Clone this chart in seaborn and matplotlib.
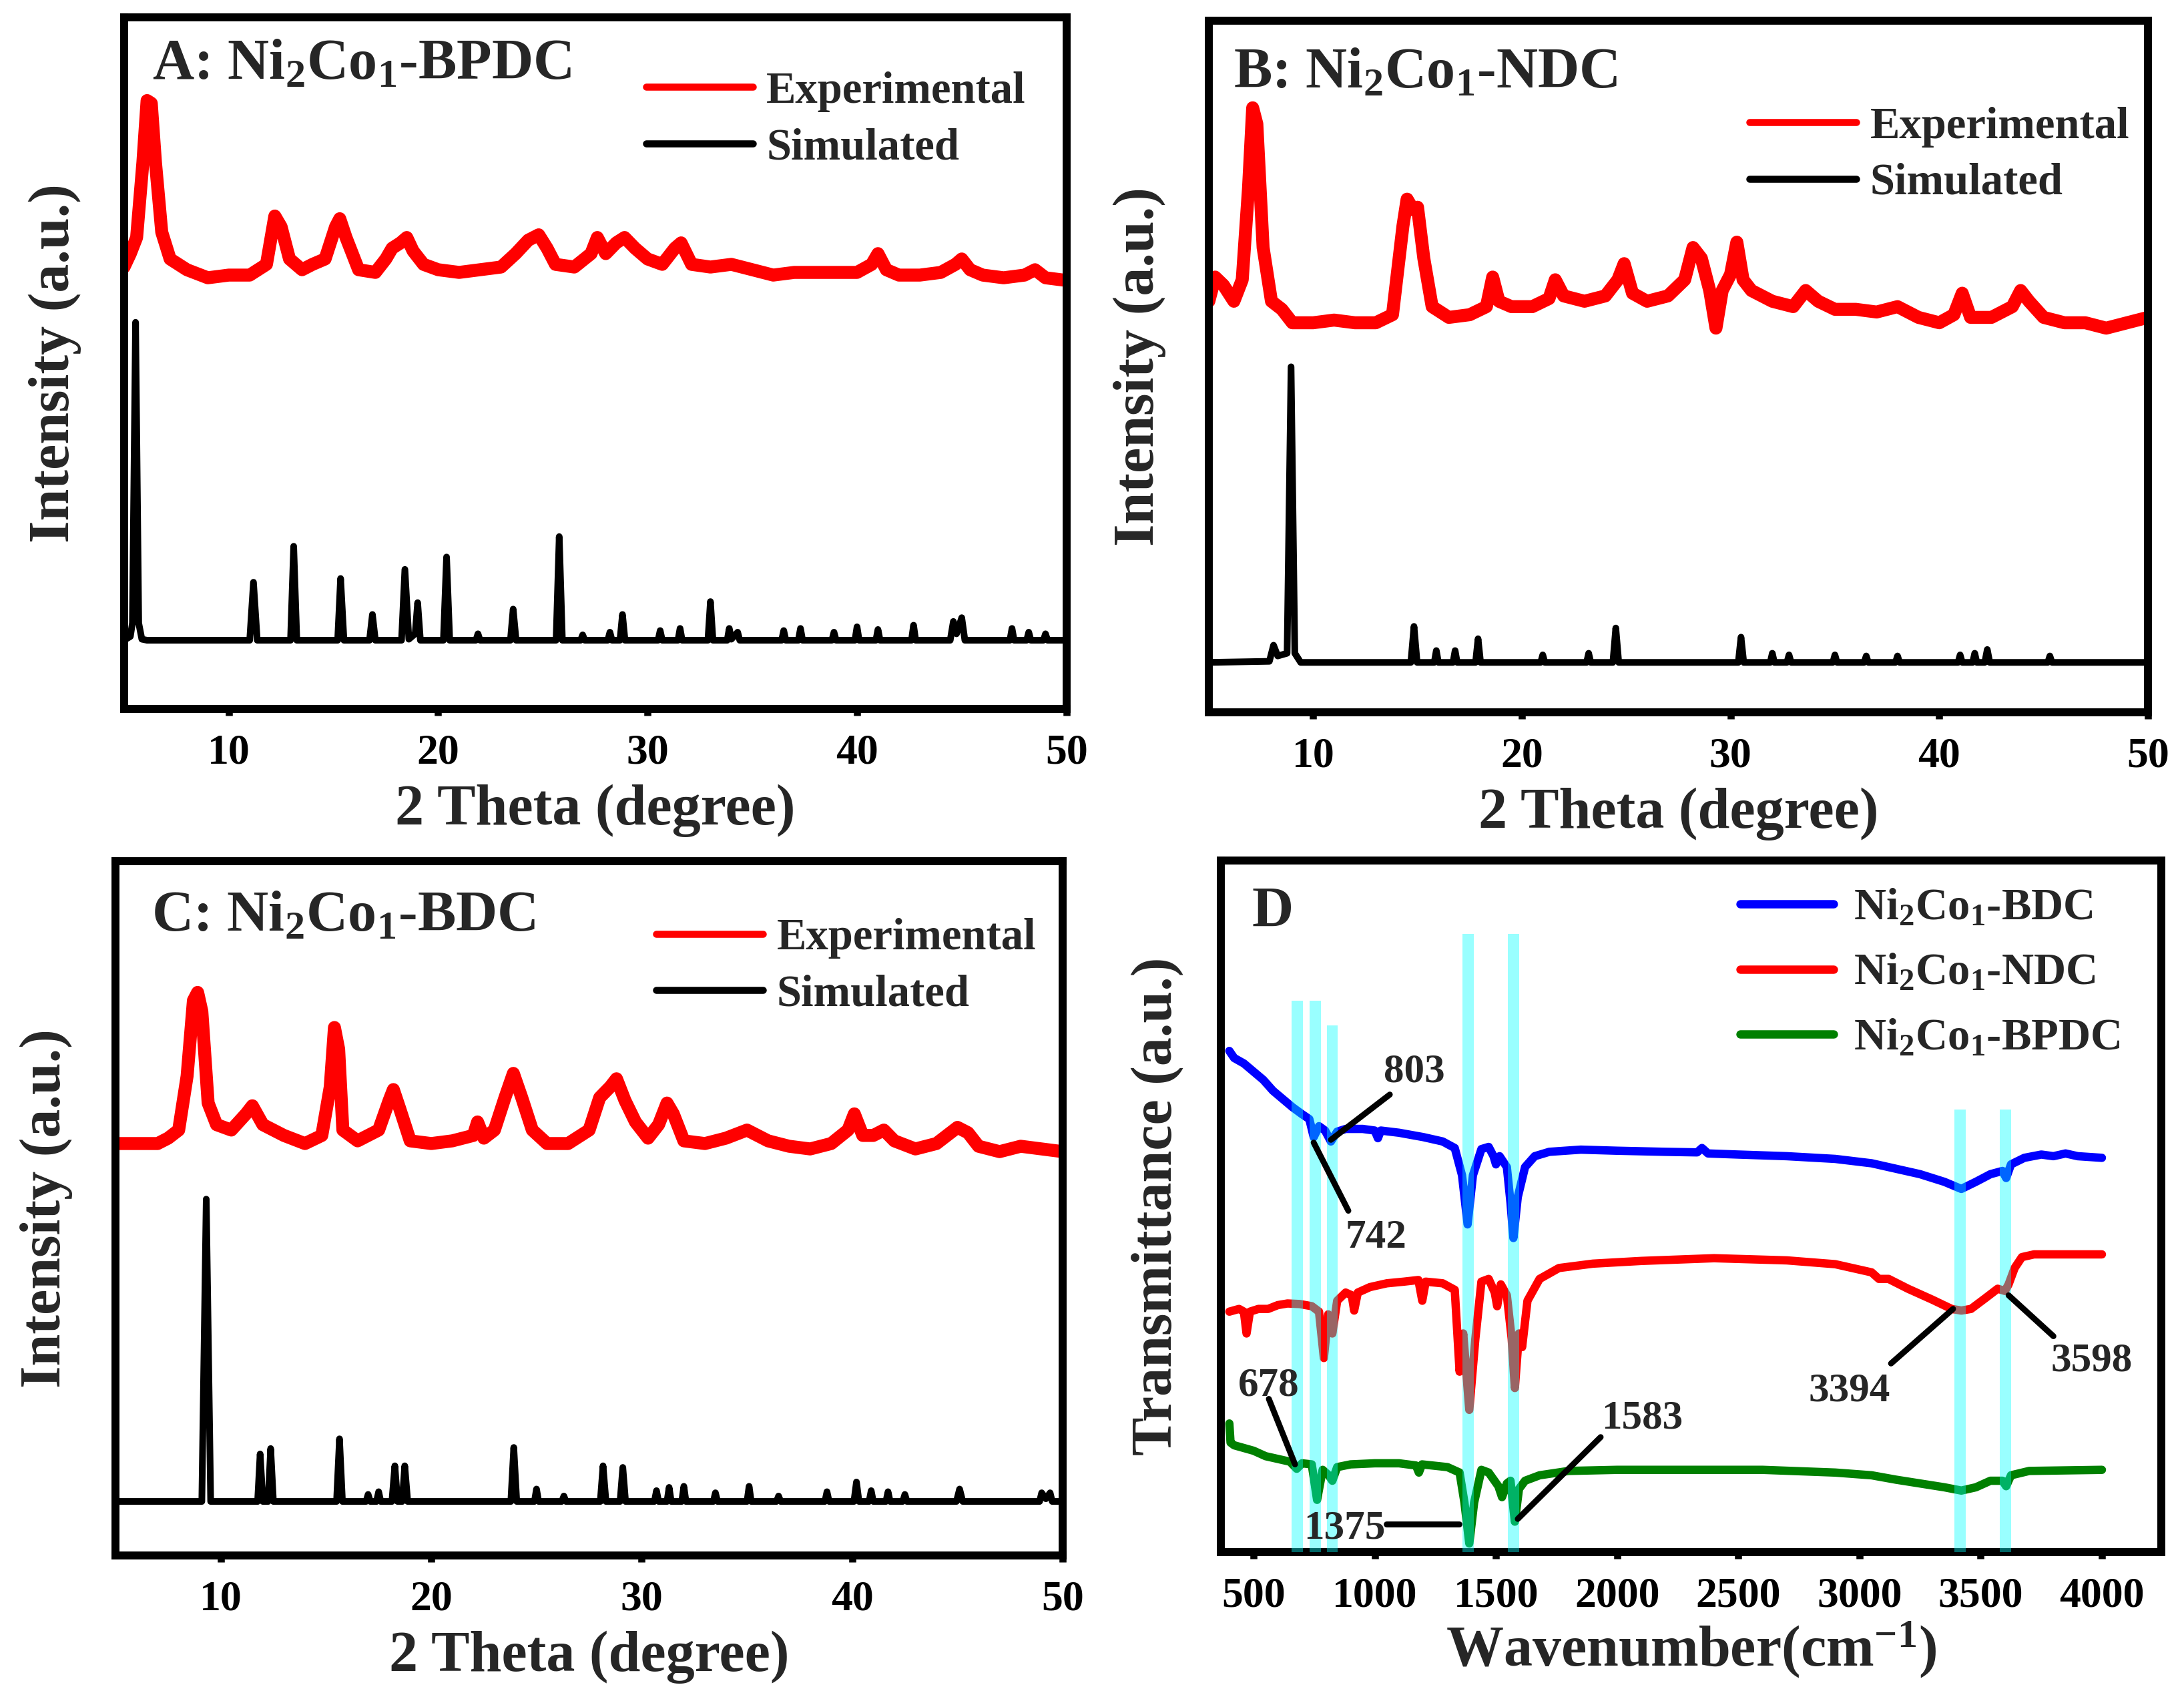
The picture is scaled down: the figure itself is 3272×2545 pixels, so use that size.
import matplotlib.pyplot as plt
import seaborn as sns
from matplotlib.lines import Line2D
from matplotlib.ticker import MultipleLocator

sns.set_theme(style="ticks")
plt.rcParams.update(
    {
        "font.family": "Liberation Serif",
        "font.weight": "bold",
        "axes.labelweight": "bold",
        "mathtext.fontset": "custom",
        "mathtext.rm": "Liberation Serif:bold",
        "mathtext.it": "Liberation Serif:bold",
        "mathtext.bf": "Liberation Serif:bold",
        "mathtext.default": "rm",
        "axes.linewidth": 4.3,
        "axes.edgecolor": "black",
    }
)

# ---- A: Ni2Co1-BPDC, (2theta, intensity) ----
a_exp = [(5.0, 823), (5.3, 848), (5.6, 878), (5.9, 1018), (6.1, 1133), (6.3, 1128),
         (6.5, 1018), (6.8, 888), (7.2, 838), (8, 818), (9, 803), (10, 808), (11, 808),
         (11.8, 828), (12.2, 918), (12.5, 898), (12.9, 838), (13.5, 818), (14, 828),
         (14.6, 838), (15.1, 898), (15.3, 913), (15.6, 878), (16.2, 818), (17, 813),
         (17.5, 838), (17.8, 858), (18.2, 868), (18.5, 878), (18.8, 853), (19.3, 828),
         (20, 818), (21, 813), (22, 818), (23, 823), (23.7, 848), (24.3, 873), (24.8, 883),
         (25.2, 858), (25.6, 828), (26.5, 823), (27.3, 848), (27.6, 878), (28, 848),
         (28.5, 868), (28.9, 878), (29.4, 858), (30, 838), (30.7, 828), (31.3, 858),
         (31.6, 868), (32.1, 828), (33, 823), (34, 828), (35, 818), (36, 808), (37, 813),
         (38, 813), (39, 813), (40, 813), (40.7, 828), (41.0, 848), (41.4, 818), (42, 808),
         (43, 808), (44, 813), (44.7, 828), (45, 838), (45.4, 818), (46, 808), (47, 803),
         (48, 808), (48.5, 818), (49, 803), (50, 798)]
a_sim = [(5.0, 128), (5.3, 135), (5.4, 160), (5.55, 720), (5.7, 160), (5.85, 130),
         (6.1, 128), (11.0, 128), (11.18, 236), (11.36, 128), (12.95, 128), (13.1, 303),
         (13.25, 128), (15.2, 128), (15.34, 243), (15.5, 128), (16.72, 128), (16.86, 176),
         (17.0, 128), (18.25, 128), (18.41, 260), (18.6, 130), (18.9, 140), (19.02, 198),
         (19.15, 128), (20.25, 128), (20.4, 283), (20.55, 128), (21.8, 128), (21.9, 140),
         (22.0, 128), (23.45, 128), (23.58, 186), (23.72, 128), (25.63, 128), (25.78, 321),
         (25.93, 128), (26.8, 128), (26.9, 138), (27.0, 128), (28.1, 128), (28.2, 143),
         (28.3, 128), (28.68, 128), (28.8, 176), (28.92, 128), (30.5, 128), (30.6, 146),
         (30.7, 128), (31.45, 128), (31.55, 150), (31.65, 128), (32.88, 128), (33.0, 200),
         (33.12, 128), (33.8, 128), (33.9, 150), (34.0, 130), (34.3, 143), (34.4, 128),
         (36.4, 128), (36.5, 146), (36.6, 128), (37.2, 128), (37.3, 150), (37.4, 128),
         (38.8, 128), (38.9, 143), (39.0, 128), (39.9, 128), (40.0, 153), (40.1, 128),
         (40.9, 128), (41.0, 148), (41.1, 128), (42.6, 128), (42.7, 156), (42.8, 128),
         (44.45, 128), (44.6, 163), (44.75, 140), (45.0, 170), (45.15, 128), (47.3, 128),
         (47.4, 150), (47.5, 128), (48.1, 128), (48.2, 143), (48.3, 128), (48.9, 128),
         (49.0, 140), (49.1, 128), (50.0, 128)]

# ---- B: Ni2Co1-NDC ----
b_exp = [(5.0, 765), (5.3, 810), (5.7, 795), (6.2, 765), (6.6, 805), (6.9, 975),
         (7.1, 1125), (7.3, 1095), (7.6, 865), (8.0, 765), (8.5, 750), (9, 725), (10, 725),
         (11, 730), (12, 725), (13, 725), (13.8, 740), (14.3, 905), (14.5, 955), (14.8, 935),
         (15.0, 940), (15.3, 845), (15.7, 755), (16.5, 735), (17.5, 740), (18.3, 755),
         (18.6, 810), (18.9, 765), (19.5, 755), (20.5, 755), (21.3, 770), (21.6, 805),
         (22.0, 775), (23, 765), (24, 775), (24.6, 805), (24.9, 835), (25.3, 780), (26, 765),
         (27, 775), (27.8, 805), (28.2, 865), (28.6, 845), (29.0, 785), (29.3, 715),
         (29.6, 785), (30.0, 815), (30.3, 875), (30.6, 805), (31, 785), (32, 765), (33, 755),
         (33.6, 785), (34.2, 765), (35, 750), (36, 750), (37, 745), (38, 755), (39, 735),
         (40, 725), (40.7, 740), (41.1, 780), (41.5, 735), (42.5, 735), (43.5, 755),
         (43.9, 785), (44.3, 765), (45, 735), (46, 725), (47, 725), (48, 715), (49, 725),
         (50, 735)]
b_sim = [(5.0, 93), (7.9, 95), (8.1, 125), (8.3, 105), (8.75, 110), (8.94, 643), (9.12, 110),
         (9.4, 93), (14.68, 93), (14.83, 160), (14.98, 93), (15.8, 93), (15.9, 115),
         (16.0, 93), (16.7, 93), (16.8, 115), (16.9, 93), (17.78, 93), (17.9, 137),
         (18.02, 93), (20.9, 93), (21.0, 107), (21.1, 93), (23.1, 93), (23.2, 110), (23.3, 93),
         (24.36, 93), (24.5, 157), (24.64, 93), (30.37, 93), (30.5, 140), (30.63, 93),
         (31.9, 93), (32.0, 110), (32.1, 93), (32.7, 93), (32.8, 107), (32.9, 93), (34.9, 93),
         (35.0, 107), (35.1, 93), (36.4, 93), (36.5, 105), (36.6, 93), (37.9, 93), (38.0, 105),
         (38.1, 93), (40.9, 93), (41.0, 107), (41.1, 93), (41.6, 93), (41.7, 110), (41.8, 93),
         (42.18, 93), (42.3, 117), (42.42, 93), (45.2, 93), (45.3, 105), (45.4, 93), (50.0, 93)]

# ---- C: Ni2Co1-BDC ----
c_exp = [(5.0, 763), (6, 763), (7, 763), (7.5, 773), (8.0, 788), (8.4, 888), (8.7, 1028),
         (8.9, 1043), (9.1, 1008), (9.4, 838), (9.8, 798), (10.5, 788), (11.2, 818),
         (11.5, 833), (12, 798), (13, 778), (14, 763), (14.8, 778), (15.2, 868), (15.4, 978),
         (15.6, 938), (15.8, 788), (16.5, 768), (17.5, 788), (18.0, 843), (18.2, 863),
         (18.5, 828), (19, 768), (20, 763), (21, 768), (22, 778), (22.2, 803), (22.5, 773),
         (23, 788), (23.5, 848), (23.9, 893), (24.3, 848), (24.8, 788), (25.5, 763),
         (26.5, 763), (27.5, 788), (28.0, 848), (28.5, 868), (28.8, 883), (29.2, 843),
         (29.7, 803), (30.3, 773), (30.8, 798), (31.2, 838), (31.5, 818), (32, 768), (33, 763),
         (34, 773), (35, 788), (36, 768), (37, 758), (38, 753), (39, 763), (39.8, 788),
         (40.1, 818), (40.5, 778), (41, 778), (41.5, 788), (42, 768), (43, 753), (44, 763),
         (45, 793), (45.5, 783), (46, 758), (47, 748), (48, 758), (49, 753), (50, 748)]
c_sim = [(5.0, 100), (9.1, 100), (9.31, 660), (9.52, 100), (11.75, 100), (11.87, 188),
         (12.0, 100), (12.1, 100), (12.25, 100), (12.37, 198), (12.5, 100), (15.5, 100),
         (15.64, 216), (15.78, 100), (16.9, 100), (17.0, 113), (17.1, 100), (17.4, 100),
         (17.5, 118), (17.6, 100), (18.13, 100), (18.27, 166), (18.4, 100), (18.5, 100),
         (18.62, 100), (18.74, 166), (18.88, 100), (23.78, 100), (23.92, 200), (24.06, 100),
         (24.9, 100), (25.0, 123), (25.1, 100), (26.2, 100), (26.3, 110), (26.4, 100),
         (28.03, 100), (28.16, 166), (28.3, 100), (28.97, 100), (29.1, 163), (29.23, 100),
         (30.6, 100), (30.7, 120), (30.8, 100), (31.2, 100), (31.3, 126), (31.4, 100),
         (31.9, 100), (32.0, 128), (32.1, 100), (33.4, 100), (33.5, 116), (33.6, 100),
         (35.0, 100), (35.1, 128), (35.2, 100), (36.4, 100), (36.5, 110), (36.6, 100),
         (38.7, 100), (38.8, 118), (38.9, 100), (40.08, 100), (40.2, 136), (40.32, 100),
         (40.8, 100), (40.9, 120), (41.0, 100), (41.6, 100), (41.7, 118), (41.8, 100),
         (42.4, 100), (42.5, 113), (42.6, 100), (44.95, 100), (45.1, 123), (45.25, 100),
         (48.9, 100), (49.0, 116), (49.2, 105), (49.4, 116), (49.5, 100), (50.0, 100)]

# ---- D: FTIR, (wavenumber, transmittance a.u.) ----
d_bdc = [(400, 928), (420, 915), (460, 905), (500, 890), (540, 875), (580, 855), (620, 840),
         (660, 825), (700, 812), (730, 803), (748, 770), (770, 790), (795, 782), (819, 762),
         (845, 780), (880, 785), (950, 785), (1000, 782), (1013, 768), (1025, 782),
         (1100, 778), (1200, 770), (1280, 762), (1330, 750), (1360, 700), (1383, 610),
         (1405, 700), (1440, 748), (1470, 752), (1490, 735), (1500, 720), (1515, 735),
         (1545, 715), (1560, 650), (1572, 585), (1590, 660), (1620, 715), (1660, 735),
         (1720, 743), (1850, 747), (2000, 745), (2200, 743), (2330, 742), (2350, 750),
         (2375, 740), (2500, 738), (2700, 735), (2900, 730), (3050, 722), (3150, 712),
         (3250, 702), (3350, 688), (3420, 675), (3480, 688), (3540, 702), (3590, 708),
         (3605, 695), (3625, 720), (3680, 732), (3750, 738), (3800, 735), (3850, 740),
         (3900, 735), (4000, 732)]
d_ndc = [(400, 450), (440, 455), (460, 450), (471, 410), (485, 450), (520, 455), (560, 455),
         (600, 462), (640, 465), (690, 464), (740, 460), (770, 450), (790, 365), (808, 445),
         (825, 410), (845, 470), (880, 485), (905, 480), (915, 452), (930, 485), (980, 495),
         (1050, 502), (1120, 505), (1180, 508), (1196, 470), (1210, 505), (1280, 502),
         (1330, 490), (1350, 340), (1365, 410), (1390, 270), (1415, 400), (1440, 505),
         (1470, 510), (1495, 485), (1505, 460), (1520, 500), (1545, 480), (1565, 400),
         (1578, 310), (1595, 410), (1608, 385), (1630, 470), (1680, 510), (1760, 530),
         (1900, 538), (2100, 543), (2400, 548), (2700, 544), (2900, 537), (3050, 522),
         (3080, 510), (3120, 510), (3200, 492), (3300, 472), (3380, 455), (3420, 452),
         (3460, 455), (3520, 475), (3570, 492), (3600, 488), (3615, 500), (3640, 530),
         (3670, 550), (3720, 555), (4000, 555)]
d_bpdc = [(400, 245), (405, 210), (420, 205), (460, 200), (500, 195), (550, 185), (600, 180),
          (650, 175), (678, 162), (700, 172), (740, 170), (762, 105), (785, 160), (810, 150),
          (825, 140), (845, 165), (900, 170), (1000, 172), (1100, 172), (1170, 168),
          (1182, 155), (1195, 170), (1300, 165), (1350, 155), (1370, 100), (1390, 25),
          (1410, 100), (1440, 160), (1470, 155), (1510, 130), (1525, 110), (1545, 135),
          (1560, 140), (1578, 65), (1595, 125), (1620, 140), (1680, 150), (1800, 158),
          (2000, 160), (2300, 160), (2600, 160), (2900, 155), (3050, 150), (3150, 142),
          (3250, 135), (3350, 128), (3420, 122), (3480, 128), (3540, 140), (3590, 140),
          (3605, 130), (3625, 150), (3700, 158), (4000, 160)]

band_pos = [680, 755, 825, 1386, 1573, 3415, 3603]
band_top = [1020, 1020, 975, 1142, 1142, 820, 820]

ann_text = ["803", "742", "678", "1375", "1583", "3394", "3598"]
ann_text_xy = [(1162, 890), (1005, 585), (563, 315), (876, 52), (2103, 255), (2958, 305),
               (3957, 360)]
ann_line_from = [(1062, 848), (891, 635), (563, 290), (1048, 60), (1932, 220), (3130, 355),
                 (3800, 405)]
ann_line_to = [(819, 765), (748, 760), (671, 170), (1347, 60), (1590, 70), (3386, 455),
               (3615, 480)]

RED = "#ff0000"
BLUE = "#0000ff"
GREEN = "#008000"
CYAN = "#00ffff"


def xy(pairs):
    return [p[0] for p in pairs], [p[1] for p in pairs]


def style_axis(ax, major, minor):
    ax.xaxis.set_major_locator(MultipleLocator(major))
    ax.xaxis.set_minor_locator(MultipleLocator(minor))
    ax.set_yticks([])
    ax.tick_params(axis="x", which="major", direction="out", length=3.6, width=3.8,
                   pad=10, labelsize=23, colors="black", bottom=True)
    ax.tick_params(axis="x", which="minor", direction="out", length=1.6, width=3.0,
                   bottom=True)
    ax.tick_params(top=False, right=False, left=False)
    for sp in ax.spines.values():
        sp.set_visible(True)
        sp.set_linewidth(4.3)
        sp.set_color("black")


def xrd_panel(ax, exp, sim, ylim, title, title_xy, leg_anchor):
    ex, ey = xy(exp)
    sx, sy = xy(sim)
    sns.lineplot(x=ex, y=ey, ax=ax, color=RED, linewidth=7, estimator=None, sort=False)
    sns.lineplot(x=sx, y=sy, ax=ax, color="black", linewidth=3.6, estimator=None,
                 sort=False)
    ax.set_xlim(5, 50)
    ax.set_ylim(*ylim)
    style_axis(ax, 10, 5)
    ax.set_xlabel("2 Theta (degree)", fontsize=31, labelpad=6)
    ax.set_ylabel("Intensity (a.u.)", fontsize=31, labelpad=23)
    ax.text(title_xy[0], title_xy[1], title, transform=ax.transAxes, fontsize=31,
            va="baseline", ha="left")
    handles = [Line2D([], [], color=RED, lw=3.8), Line2D([], [], color="black", lw=3.8)]
    ax.legend(handles, ["Experimental", "Simulated"], loc="upper left",
              bbox_to_anchor=leg_anchor, frameon=False, fontsize=24, handlelength=2.4,
              handletextpad=0.3, labelspacing=0.35, borderpad=0, borderaxespad=0)


fig = plt.figure(figsize=(16.36, 12.725), dpi=200)
fig.patch.set_facecolor("white")
ax_a = fig.add_axes([0.0568, 0.5827, 0.4315, 0.4071])
ax_b = fig.add_axes([0.5535, 0.5807, 0.4300, 0.4071])
ax_c = fig.add_axes([0.0529, 0.0845, 0.4337, 0.4086])
ax_d = fig.add_axes([0.5590, 0.0864, 0.4306, 0.4071])

xrd_panel(ax_a, a_exp, a_sim, (0, 1288), r"A: Ni$_2$Co$_1$-BPDC", (0.03, 0.911),
          (0.554, 0.922))
xrd_panel(ax_b, b_exp, b_sim, (0, 1287), r"B: Ni$_2$Co$_1$-NDC", (0.026, 0.904),
          (0.576, 0.876))
xrd_panel(ax_c, c_exp, c_sim, (0, 1286), r"C: Ni$_2$Co$_1$-BDC", (0.038, 0.90),
          (0.571, 0.918))

# ---- D: FTIR ----
ax = ax_d
for pairs, col in [(d_bdc, BLUE), (d_ndc, RED), (d_bpdc, GREEN)]:
    px, py = xy(pairs)
    sns.lineplot(x=px, y=py, ax=ax, color=col, linewidth=4.5, estimator=None, sort=False)
d_ylo = 9
ax.bar(band_pos, [t - d_ylo for t in band_top], bottom=d_ylo, width=46, color=CYAN,
       alpha=0.4, linewidth=0, zorder=5)
for lab, (tx, ty), (fx, fy), (ex, ey) in zip(ann_text, ann_text_xy, ann_line_from,
                                             ann_line_to):
    ax.plot([fx, ex], [fy, ey], color="black", lw=3.2, zorder=6, solid_capstyle="round")
    ax.text(tx, ty, lab, fontsize=22, ha="center", va="center", zorder=7)
ax.set_xlim(365, 4245)
ax.set_ylim(d_ylo, 1277)
style_axis(ax, 500, 250)
ax.set_xlabel(r"Wavenumber(cm$^{-1}$)", fontsize=31, labelpad=2)
ax.set_ylabel("Transmittance (a.u.)", fontsize=31, labelpad=20)
ax.text(0.033, 0.905, "D", transform=ax.transAxes, fontsize=31, va="baseline", ha="left")
d_handles = [Line2D([], [], color=BLUE, lw=4.5), Line2D([], [], color=RED, lw=4.5),
             Line2D([], [], color=GREEN, lw=4.5)]
ax.legend(d_handles, [r"Ni$_2$Co$_1$-BDC", r"Ni$_2$Co$_1$-NDC", r"Ni$_2$Co$_1$-BPDC"],
          loc="upper left", bbox_to_anchor=(0.552, 0.96), frameon=False, fontsize=24,
          handlelength=2.1, handletextpad=0.45, labelspacing=0.55, borderpad=0,
          borderaxespad=0)

fig.savefig("out.png", dpi=200, facecolor="white")
